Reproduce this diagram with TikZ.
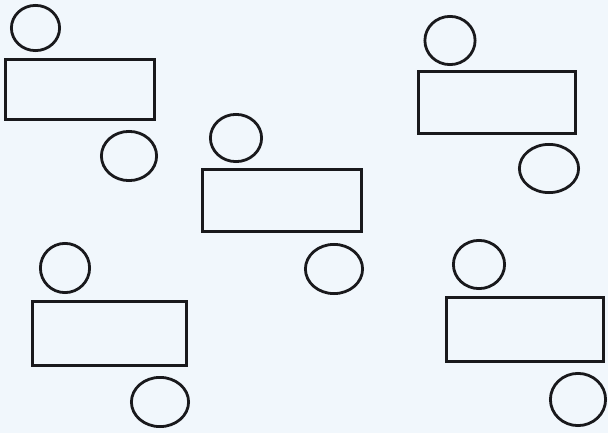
\documentclass[tikz,border=0pt]{standalone}
\usetikzlibrary{shapes.geometric}
\definecolor{paper}{RGB}{241,247,252}
\definecolor{ink}{RGB}{25,25,28}
\begin{document}
\begin{tikzpicture}[x=1pt,y=-1pt,
  box/.style={draw=ink,line width=3pt,rectangle,inner sep=0pt,outer sep=0pt},
  ring/.style={draw=ink,line width=2.8pt,ellipse,inner sep=0pt,outer sep=0pt}]
\fill[paper] (0,0) rectangle (608,433);
\useasboundingbox (0,0) rectangle (608,433);
% rectangles
\node[box,minimum width=149pt,minimum height=60pt] (r1) at (80,89.5) {};
\node[box,minimum width=159pt,minimum height=62pt] (r2) at (282,200.5) {};
\node[box,minimum width=157pt,minimum height=62pt] (r3) at (497,102.5) {};
\node[box,minimum width=154pt,minimum height=64pt] (r4) at (109.5,333.5) {};
\node[box,minimum width=157pt,minimum height=64pt] (r5) at (525,329.5) {};
% circles
\node[ring,minimum width=48.2pt,minimum height=45.2pt] (c1) at (35.5,28) {};
\node[ring,minimum width=55.2pt,minimum height=49.2pt] (c2) at (129,156) {};
\node[ring,minimum width=51.2pt,minimum height=47.2pt] (c3) at (236,138) {};
\node[ring,minimum width=57.2pt,minimum height=49.2pt] (c4) at (334,269) {};
\node[ring,minimum width=50.2pt,minimum height=48.2pt] (c5) at (450,40.5) {};
\node[ring,minimum width=59.2pt,minimum height=48.2pt] (c6) at (549,168.5) {};
\node[ring,minimum width=49.2pt,minimum height=49.2pt] (c7) at (65,268) {};
\node[ring,minimum width=57.2pt,minimum height=49.2pt] (c8) at (160,402) {};
\node[ring,minimum width=51.2pt,minimum height=48.2pt] (c9) at (479,264.5) {};
\node[ring,minimum width=55.2pt,minimum height=52.2pt] (c10) at (578,399.5) {};
\end{tikzpicture}
\end{document}
